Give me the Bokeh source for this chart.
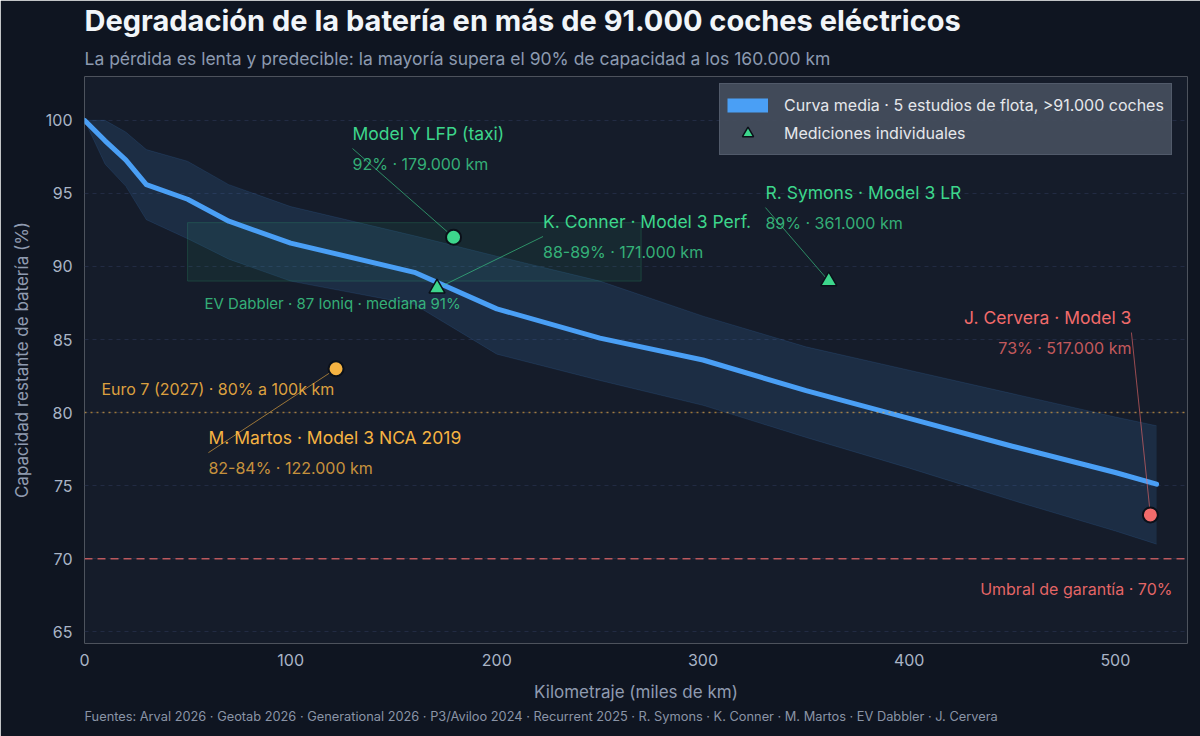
from bokeh.plotting import figure
from bokeh.models import (ColumnDataSource, Span, Legend, LegendItem, Title,
                          Range1d, FixedTicker)
from bokeh.core.properties import value
from bokeh.embed import file_html
from bokeh.resources import INLINE

# ---------------- data ----------------
km = [0, 10, 20, 30, 50, 70, 100, 160, 200, 250, 300, 350, 400, 450, 500, 520]
mean_capacity = [100, 98.6, 97.3, 95.6, 94.6, 93.1, 91.6, 89.6, 87.1, 85.1, 83.6, 81.5, 79.6, 77.7, 75.9, 75.1]
band_upper = [100, 100, 99.2, 98.0, 97.2, 95.6, 94.1, 92.1, 90.7, 89.0, 86.6, 84.5, 82.9, 81.3, 79.7, 79.1]
band_lower = [100, 97.0, 95.5, 93.2, 91.9, 90.5, 89.0, 87.4, 84.0, 82.2, 80.5, 78.3, 76.2, 74.0, 71.9, 71.0]

meas_names = ["Model Y LFP (taxi)", "K. Conner · Model 3 Perf.", "R. Symons · Model 3 LR",
              "M. Martos · Model 3 NCA 2019", "J. Cervera · Model 3"]
meas_details = ["92% · 179.000 km", "88-89% · 171.000 km", "89% · 361.000 km",
                "82-84% · 122.000 km", "73% · 517.000 km"]
meas_km = [179, 171, 361, 122, 517]
meas_capacity = [92, 88.5, 89, 83, 73]
meas_marker = ["circle", "triangle", "triangle", "circle", "circle"]

dabbler_km = [50, 270]
dabbler_capacity = [89, 93]
dabbler_text = "EV Dabbler · 87 Ioniq · mediana 91%"

euro7_level = 80
warranty_level = 70

x_ticks = [0, 100, 200, 300, 400, 500]
y_ticks = [65, 70, 75, 80, 85, 90, 95, 100]

# ---------------- styling / layout ----------------
FONT = "Inter"
BG = "#0f1521"
PLOT_BG = "#151c2a"
BLUE = "#4a9ff5"
GREEN = "#3dd68c"
AMBER = "#f5b342"
RED = "#f26b6b"

meas_color = [GREEN, GREEN, GREEN, AMBER, RED]
label_x = [130.0, 222.4, 330.3, 60.1, 507.8]
label_y = [98.07, 92.05, 94.03, 77.26, 85.48]
label_align = ["left", "left", "left", "left", "right"]

p = figure(width=1200, height=736, output_backend="svg", toolbar_location=None,
           title=None,
           x_range=Range1d(0, 535), y_range=Range1d(64.2, 103),
           min_border_left=84, min_border_right=13, min_border_top=76, min_border_bottom=93,
           border_fill_color=BG, background_fill_color=PLOT_BG, outline_line_color=None)

# axes
for ax in (p.xaxis[0], p.yaxis[0]):
    ax.axis_line_color = None
    ax.major_tick_line_color = None
    ax.minor_tick_line_color = None
    ax.major_label_text_color = "#a9b4c6"
    ax.major_label_text_font = FONT
    ax.major_label_text_font_size = "16px"
    ax.axis_label_text_color = "#8f9bb0"
    ax.axis_label_text_font = FONT
    ax.axis_label_text_font_size = "17px"
    ax.axis_label_text_font_style = "normal"
p.xaxis[0].ticker = FixedTicker(ticks=x_ticks)
p.yaxis[0].ticker = FixedTicker(ticks=y_ticks)
p.xaxis[0].axis_label = "Kilometraje (miles de km)"
p.yaxis[0].axis_label = "Capacidad restante de batería (%)"
p.xaxis[0].major_label_standoff = 4
p.xaxis[0].axis_label_standoff = 13
p.yaxis[0].major_label_standoff = 6
p.yaxis[0].axis_label_standoff = 11

p.xgrid.grid_line_color = None
p.ygrid.grid_line_color = "#25304a"
p.ygrid.grid_line_dash = "4 4"
p.ygrid.grid_line_alpha = 0.8

# band
src = ColumnDataSource(dict(km=km, mean=mean_capacity, lo=band_lower, hi=band_upper))
p.varea(x="km", y1="lo", y2="hi", source=src, fill_color=BLUE, fill_alpha=0.13)
p.line(x="km", y="hi", source=src, line_color=BLUE, line_alpha=0.12, line_width=1)
p.line(x="km", y="lo", source=src, line_color=BLUE, line_alpha=0.12, line_width=1)

# EV Dabbler box
p.quad(left=[dabbler_km[0]], right=[dabbler_km[1]], bottom=[dabbler_capacity[0]],
       top=[dabbler_capacity[1]], fill_color=GREEN, fill_alpha=0.07,
       line_color=GREEN, line_alpha=0.18, line_width=1)
p.text(x=[dabbler_km[0] + 8.2], y=[dabbler_capacity[0] - 1.55], text=[dabbler_text],
       text_font=value(FONT), text_font_size="15px", text_color=GREEN, text_alpha=0.8,
       text_baseline="middle", text_align="left")

# reference lines
p.add_layout(Span(location=euro7_level, dimension="width", line_color=AMBER,
                  line_alpha=0.6, line_dash="2 4", line_width=1.5))
p.add_layout(Span(location=warranty_level, dimension="width", line_color=RED,
                  line_alpha=0.75, line_dash="8 5", line_width=1.5))
p.text(x=[8.2], y=[81.6], text=["Euro 7 (2027) · 80% a 100k km"], text_font=value(FONT),
       text_font_size="16px", text_color=AMBER, text_alpha=0.9, text_baseline="middle")
p.text(x=[527.7], y=[67.96], text=["Umbral de garantía · 70%"], text_font=value(FONT),
       text_font_size="16px", text_color=RED, text_alpha=0.95, text_baseline="middle",
       text_align="right")

# mean curve
p.line(x="km", y="mean", source=src, line_color=BLUE, line_width=5, line_cap="round",
       line_join="round")

# annotations
ann = ColumnDataSource(dict(x=meas_km, y=meas_capacity, lx=label_x, ly=label_y,
                            name=meas_names, det=meas_details, color=meas_color,
                            align=label_align))
p.segment(x0="lx", y0="ly", x1="x", y1="y", source=ann, line_color="color",
          line_alpha=0.6, line_width=1)
p.text(x="lx", y="ly", text="name", source=ann, text_color="color", text_align="align",
       text_baseline="middle", y_offset=-15, text_font=value(FONT), text_font_size="17.5px")
p.text(x="lx", y="ly", text="det", source=ann, text_color="color", text_alpha=0.8,
       text_align="align", text_baseline="middle", y_offset=15, text_font=value(FONT),
       text_font_size="16px")

circ = ColumnDataSource(dict(
    x=[a for a, m in zip(meas_km, meas_marker) if m == "circle"],
    y=[a for a, m in zip(meas_capacity, meas_marker) if m == "circle"],
    c=[a for a, m in zip(meas_color, meas_marker) if m == "circle"]))
tri = ColumnDataSource(dict(
    x=[a for a, m in zip(meas_km, meas_marker) if m == "triangle"],
    y=[a for a, m in zip(meas_capacity, meas_marker) if m == "triangle"],
    c=[a for a, m in zip(meas_color, meas_marker) if m == "triangle"]))
p.scatter(x="x", y="y", source=circ, marker="circle", size=15, fill_color="c",
          line_color="#0b1019", line_width=2)
tri_r = p.scatter(x="x", y="y", source=tri, marker="triangle", size=16, fill_color="c",
                  line_color="#0b1019", line_width=1.5)

# legend
swatch = p.line(x=[float("nan")], y=[float("nan")], line_color=BLUE, line_width=14)
legend = Legend(items=[LegendItem(label="Curva media · 5 estudios de flota, >91.000 coches", renderers=[swatch]),
                       LegendItem(label="Mediciones individuales", renderers=[tri_r])],
                location=(635, 488), padding=7, spacing=0,
                glyph_width=41, glyph_height=28, label_standoff=16,
                label_text_font=FONT, label_text_font_size="16px", label_text_color="#e5e7eb",
                background_fill_color="#454e5d", background_fill_alpha=0.92,
                border_line_color="#5c6577", border_line_alpha=0.6)
p.add_layout(legend)

# titles & footer
p.add_layout(Title(text="La pérdida es lenta y predecible: la mayoría supera el 90% de capacidad a los 160.000 km",
                   align="left", text_font=FONT, text_font_size="17.5px", text_color="#8c9ab0",
                   text_font_style="normal", standoff=16), "above")
p.add_layout(Title(text="Degradación de la batería en más de 91.000 coches eléctricos",
                   align="left", text_font=FONT, text_font_size="29px", text_font_style="bold",
                   text_color="#f1f5f9", standoff=0), "above")
p.add_layout(Title(text="Fuentes: Arval 2026 · Geotab 2026 · Generational 2026 · P3/Aviloo 2024 · Recurrent 2025 · R. Symons · K. Conner · M. Martos · EV Dabbler · J. Cervera",
                   align="left", text_font=FONT, text_font_size="12.8px", text_color="#8a94a6",
                   text_font_style="normal", standoff=4), "below")

open("out.html", "w").write(file_html(p, INLINE))
